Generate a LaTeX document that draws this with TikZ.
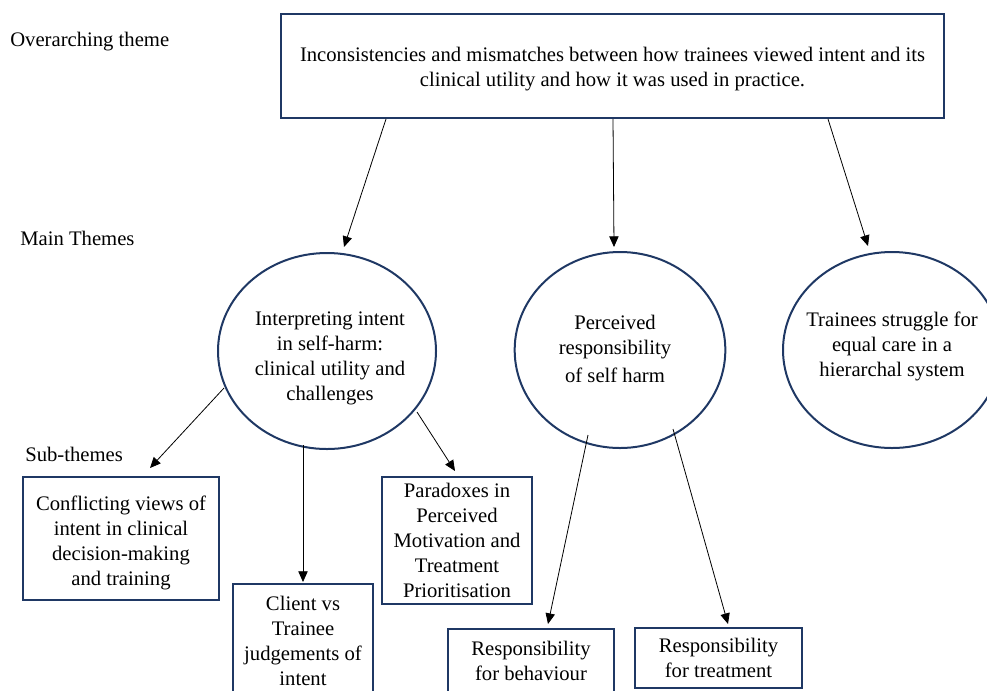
\documentclass[tikz,border=0pt]{standalone}
\usepackage{fontspec}
\setmainfont{Liberation Serif}
\usetikzlibrary{shapes.geometric,arrows.meta}
\definecolor{navy}{HTML}{1F3864}
\begin{document}
\begin{tikzpicture}[x=0.75pt,y=-0.75pt,
  txt/.style={font=\fontsize{15.5}{18.75}\selectfont, align=center, inner sep=0pt},
  tbox/.style={txt, draw=navy, line width=1.5pt, rectangle},
  theme/.style={draw=navy, line width=1.5pt, ellipse, inner sep=0pt},
  arr/.style={-{Triangle[length=8pt,width=7pt]}, line width=0.6pt, black}
]
\useasboundingbox (0,0) rectangle (987,690);

% side labels
\node[txt, anchor=west] (lab1) at (10,42) {Overarching theme};
\node[txt, anchor=west] (lab2) at (20,238) {Main Themes};
\node[txt, anchor=west] (lab3) at (25,454) {Sub-themes};

% overarching theme
\node[tbox, minimum width=497pt, minimum height=78pt] (top) at (612.5,66) {};
\node[txt] (ttop) at (612.5,69)
  {Inconsistencies and mismatches between how trainees viewed intent and its\\clinical utility and how it was used in practice.};

% main themes
\node[theme, minimum width=163.5pt, minimum height=147pt] (c1) at (327,351) {};
\node[txt] (t1) at (330,358) {Interpreting intent\\in self-harm:\\clinical utility and\\challenges};
\node[theme, minimum width=158pt, minimum height=147pt] (c2) at (620,350) {};
\node[txt] (t2) at (615,349) {Perceived\\responsibility\\[2pt]of self harm};
\node[theme, minimum width=163.5pt, minimum height=147pt] (c3) at (892,350) {};
\node[txt] (t3) at (892,346) {Trainees struggle for\\equal care in a\\hierarchal system};

% sub-themes
\node[tbox, minimum width=147pt, minimum height=92.25pt] (s1) at (121,538.5) {};
\node[txt] (ts1) at (121,542.5)
  {Conflicting views of\\intent in clinical\\decision-making\\and training};
\node[tbox, minimum width=105pt, minimum height=85.5pt] (s2) at (303,641)
  {Client vs\\Trainee\\judgements of\\intent};
\node[tbox, minimum width=112.5pt, minimum height=95.25pt] (s3) at (457,540.5)
  {Paradoxes in\\Perceived\\Motivation and\\Treatment\\Prioritisation};
\node[tbox, minimum width=124.5pt, minimum height=48pt] (s4) at (531,661)
  {Responsibility\\for behaviour};
\node[tbox, minimum width=125.25pt, minimum height=45pt] (s5) at (718.5,658)
  {Responsibility\\for treatment};

% connector coordinates
\coordinate (a1s) at (386,119); \coordinate (a1e) at (344,247);
\coordinate (a2s) at (613,119); \coordinate (a2e) at (614,247);
\coordinate (a3s) at (828,119); \coordinate (a3e) at (868,246);
\coordinate (b1s) at (224,388); \coordinate (b1e) at (150,468);
\coordinate (b2s) at (303,445); \coordinate (b2e) at (303,582);
\coordinate (b3s) at (417,412); \coordinate (b3e) at (455,471);
\coordinate (c1s) at (588,435); \coordinate (c1e) at (548,624);
\coordinate (c2s) at (673,429); \coordinate (c2e) at (728,624);

\draw[arr] (a1s) -- (a1e);
\draw[arr] (a2s) -- (a2e);
\draw[arr] (a3s) -- (a3e);
\draw[arr] (b1s) -- (b1e);
\draw[arr] (b2s) -- (b2e);
\draw[arr] (b3s) -- (b3e);
\draw[arr] (c1s) -- (c1e);
\draw[arr] (c2s) -- (c2e);
\end{tikzpicture}
\end{document}
